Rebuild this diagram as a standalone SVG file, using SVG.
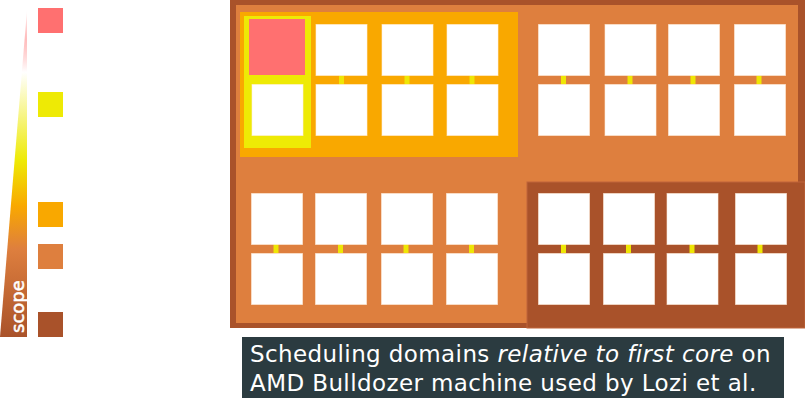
<svg xmlns="http://www.w3.org/2000/svg" width="805" height="399" viewBox="0 0 805 399">
  <defs>
    <linearGradient id="scopeGrad" x1="0" y1="10" x2="0" y2="337" gradientUnits="userSpaceOnUse">
      <stop offset="0" stop-color="#ff7070" stop-opacity="0"/>
      <stop offset="0.09" stop-color="#ffa0a0" stop-opacity="0.7"/>
      <stop offset="0.19" stop-color="#ffffff"/>
      <stop offset="0.46" stop-color="#eeea05"/>
      <stop offset="0.6" stop-color="#f9a800"/>
      <stop offset="0.73" stop-color="#de7f3e"/>
      <stop offset="1" stop-color="#a9522a"/>
    </linearGradient>
    <style>
      .core { fill: #ffffff; stroke: #fff0e0; stroke-opacity: 0.6; stroke-width: 1; }
      .link { fill: #eee605; }
      .lvl-core { fill: #ff7070; }
      .lvl-pair { fill: #eeea05; }
      .lvl-node { fill: #f9a800; }
      .lvl-pkg  { fill: #de7f3e; }
      .lvl-mach { fill: #a9522a; }
      .caption { font-family: "DejaVu Sans", "Liberation Sans", sans-serif; font-size: 23px; letter-spacing: 0.4px; fill: #ffffff; }
      .scope { font-family: "DejaVu Sans", "Liberation Sans", sans-serif; font-size: 18px; fill: #ffffff; stroke: #ffffff; stroke-width: 0.5; }
    </style>
  </defs>

  <!-- scope legend -->
  <g id="legend">
    <polygon points="27,10 27,337 0,337" fill="url(#scopeGrad)"/>
    <text class="scope" transform="translate(24,333) rotate(-90)">scope</text>
    <rect class="lvl-core" x="38" y="8" width="25" height="25"/>
    <rect class="lvl-pair" x="38" y="92" width="25" height="25"/>
    <rect class="lvl-node" x="38" y="202" width="25" height="25"/>
    <rect class="lvl-pkg"  x="38" y="244" width="25" height="25"/>
    <rect class="lvl-mach" x="38" y="312" width="25" height="25"/>
  </g>

  <!-- domain frames -->
  <g id="domains">
    <rect class="lvl-mach" x="230" y="0" width="575" height="328"/>
    <rect class="lvl-pkg" x="236" y="5" width="562" height="318"/>
    <rect class="lvl-mach" x="527" y="182" width="278" height="146" stroke="#c0643a" stroke-width="1"/>
    <rect class="lvl-node" x="240" y="12" width="278" height="145"/>
    <rect class="lvl-pair" x="244" y="16" width="67" height="132"/>
    <rect class="lvl-core" x="249" y="19" width="56" height="56"/>
  </g>

  <!-- links between paired cores -->
  <g id="connectors">
    <rect class="link" x="339" y="75.5" width="5" height="9"/>
    <rect class="link" x="404.5" y="75.5" width="5" height="9"/>
    <rect class="link" x="469.5" y="75.5" width="5" height="9"/>
    <rect class="link" x="561" y="75.5" width="5" height="9"/>
    <rect class="link" x="627.5" y="75.5" width="5" height="9"/>
    <rect class="link" x="690.5" y="75.5" width="5" height="9"/>
    <rect class="link" x="756.5" y="75.5" width="5" height="9"/>
    <rect class="link" x="273.5" y="244" width="5" height="9"/>
    <rect class="link" x="338" y="244" width="5" height="9"/>
    <rect class="link" x="403.5" y="244" width="5" height="9"/>
    <rect class="link" x="469" y="244" width="5" height="9"/>
    <rect class="link" x="561" y="244" width="5" height="9"/>
    <rect class="link" x="626" y="244" width="5" height="9"/>
    <rect class="link" x="689.5" y="244" width="5" height="9"/>
    <rect class="link" x="757.5" y="244" width="5" height="9"/>
  </g>

  <!-- cores -->
  <g id="core-1"><rect class="core" x="252" y="84.5" width="51" height="51"/></g>
  <g id="core-2"><rect class="core" x="316" y="24.5" width="51" height="51"/></g>
  <g id="core-3"><rect class="core" x="316" y="84.5" width="51" height="51"/></g>
  <g id="core-4"><rect class="core" x="382" y="24.5" width="51" height="51"/></g>
  <g id="core-5"><rect class="core" x="382" y="84.5" width="51" height="51"/></g>
  <g id="core-6"><rect class="core" x="447" y="24.5" width="51" height="51"/></g>
  <g id="core-7"><rect class="core" x="447" y="84.5" width="51" height="51"/></g>

  <g id="core-8"><rect class="core" x="538.5" y="24.5" width="51" height="51"/></g>
  <g id="core-9"><rect class="core" x="538.5" y="84.5" width="51" height="51"/></g>
  <g id="core-10"><rect class="core" x="605" y="24.5" width="51" height="51"/></g>
  <g id="core-11"><rect class="core" x="605" y="84.5" width="51" height="51"/></g>
  <g id="core-12"><rect class="core" x="668.5" y="24.5" width="51" height="51"/></g>
  <g id="core-13"><rect class="core" x="668.5" y="84.5" width="51" height="51"/></g>
  <g id="core-14"><rect class="core" x="734.5" y="24.5" width="51" height="51"/></g>
  <g id="core-15"><rect class="core" x="734.5" y="84.5" width="51" height="51"/></g>

  <g id="core-16"><rect class="core" x="251.5" y="193.5" width="51" height="51"/></g>
  <g id="core-17"><rect class="core" x="251.5" y="253.5" width="51" height="51"/></g>
  <g id="core-18"><rect class="core" x="315.5" y="193.5" width="51" height="51"/></g>
  <g id="core-19"><rect class="core" x="315.5" y="253.5" width="51" height="51"/></g>
  <g id="core-20"><rect class="core" x="381.5" y="193.5" width="51" height="51"/></g>
  <g id="core-21"><rect class="core" x="381.5" y="253.5" width="51" height="51"/></g>
  <g id="core-22"><rect class="core" x="446.5" y="193.5" width="51" height="51"/></g>
  <g id="core-23"><rect class="core" x="446.5" y="253.5" width="51" height="51"/></g>

  <g id="core-24"><rect class="core" x="538.5" y="193.5" width="51" height="51"/></g>
  <g id="core-25"><rect class="core" x="538.5" y="253.5" width="51" height="51"/></g>
  <g id="core-26"><rect class="core" x="603.5" y="193.5" width="51" height="51"/></g>
  <g id="core-27"><rect class="core" x="603.5" y="253.5" width="51" height="51"/></g>
  <g id="core-28"><rect class="core" x="667" y="193.5" width="51" height="51"/></g>
  <g id="core-29"><rect class="core" x="667" y="253.5" width="51" height="51"/></g>
  <g id="core-30"><rect class="core" x="735.5" y="193.5" width="51" height="51"/></g>
  <g id="core-31"><rect class="core" x="735.5" y="253.5" width="51" height="51"/></g>

  <!-- caption -->
  <g id="caption">
    <rect x="242" y="337" width="542" height="61" fill="#2b3b40"/>
    <text class="caption" x="250" y="362">Scheduling domains <tspan font-style="italic">relative to first core</tspan> on</text>
    <text class="caption" x="250" y="391">AMD Bulldozer machine used by Lozi et al.</text>
  </g>
</svg>
